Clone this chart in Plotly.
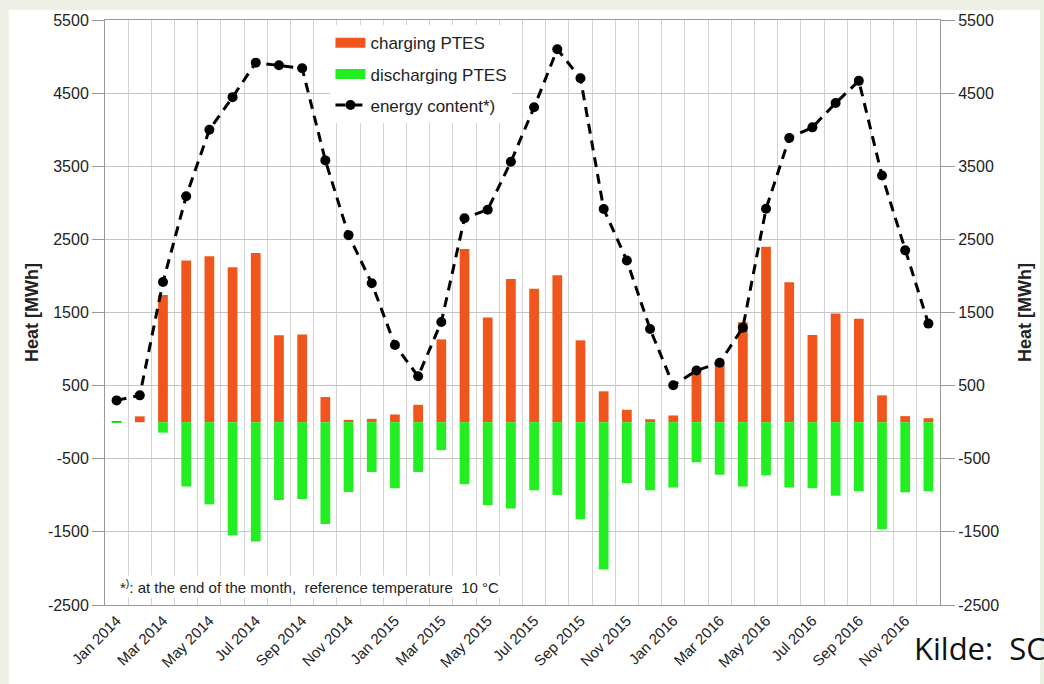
import plotly.graph_objects as go

months = ["Jan 2014", "Feb 2014", "Mar 2014", "Apr 2014", "May 2014", "Jun 2014",
          "Jul 2014", "Aug 2014", "Sep 2014", "Oct 2014", "Nov 2014", "Dec 2014",
          "Jan 2015", "Feb 2015", "Mar 2015", "Apr 2015", "May 2015", "Jun 2015",
          "Jul 2015", "Aug 2015", "Sep 2015", "Oct 2015", "Nov 2015", "Dec 2015",
          "Jan 2016", "Feb 2016", "Mar 2016", "Apr 2016", "May 2016", "Jun 2016",
          "Jul 2016", "Aug 2016", "Sep 2016", "Oct 2016", "Nov 2016", "Dec 2016"]

charging = [10, 80, 1740, 2210, 2270, 2120, 2315, 1190, 1200, 344, 32, 46,
            105, 238, 1132, 2370, 1430, 1958, 1825, 2008, 1119, 422, 170, 41,
            92, 665, 802, 1366, 2400, 1912, 1192, 1486, 1413, 367, 83, 55]

discharging = [-8, 0, -143, -880, -1124, -1548, -1631, -1065, -1051, -1392, -954, -682,
               -903, -682, -382, -848, -1134, -1180, -931, -995, -1327, -2014, -834, -931,
               -894, -548, -719, -880, -728, -894, -903, -1005, -945, -1465, -959, -945]

energy = [298, 367, 1916, 3090, 4000, 4445, 4917, 4882, 4840, 3580, 2558, 1900,
          1055, 628, 1370, 2789, 2906, 3561, 4306, 5100, 4703, 2915, 2210, 1275,
          504, 706, 812, 1293, 2918, 3886, 4032, 4364, 4668, 3373, 2350, 1348]

y_ticks = [-2500, -1500, -500, 500, 1500, 2500, 3500, 4500, 5500]
y_tick_text = [str(v) for v in y_ticks]

ORANGE = "#f0561c"
GREEN = "#22ee22"
FONT = "Arial, Liberation Sans, sans-serif"

idx = list(range(len(months)))
label_idx = idx[::2]
label_txt = months[::2]
boundaries = [i + 0.5 for i in idx[:-1]]

fig = go.Figure()
fig.add_trace(go.Bar(x=idx, y=charging, marker=dict(color=ORANGE, line=dict(width=0)),
                     width=0.42, name="charging PTES", showlegend=False))
fig.add_trace(go.Bar(x=idx, y=discharging, marker=dict(color=GREEN, line=dict(width=0)),
                     width=0.42, name="discharging PTES", showlegend=False))
# legend swatches
fig.add_trace(go.Scatter(x=[None], y=[None], mode="lines", line=dict(color=ORANGE, width=10),
                         name="charging PTES", legendgroup="a"))
fig.add_trace(go.Scatter(x=[None], y=[None], mode="lines", line=dict(color=GREEN, width=10),
                         name="discharging PTES", legendgroup="b"))
fig.add_trace(go.Scatter(x=idx, y=energy, mode="lines+markers", yaxis="y2",
                         line=dict(color="black", width=3, dash="10px,7px"),
                         marker=dict(color="black", size=10),
                         name="energy content*)", legendgroup="c"))

axis_common = dict(range=[-2500, 5500], tickmode="array", tickvals=y_ticks,
                   ticktext=y_tick_text, ticks="outside",
                   tickcolor="#999", tickfont=dict(family=FONT, size=16, color="#222"),
                   zeroline=False, showline=True, linecolor="#999", linewidth=1)

title_font = dict(family=FONT, size=18, color="#222")

fig.update_layout(
    width=1044, height=684,
    margin=dict(l=105, r=89, t=20, b=79),
    paper_bgcolor="#edf0e4",
    plot_bgcolor="white",
    barmode="relative",
    font=dict(family=FONT, color="#222"),
    xaxis=dict(range=[-0.5, 35.5], tickmode="array", tickvals=label_idx, ticktext=label_txt,
               tickangle=-45, tickfont=dict(family=FONT, size=15, color="#222"),
               showgrid=False, zeroline=False, showline=True, linecolor="#999",
               mirror=True, ticks="",
               minor=dict(tickmode="array", tickvals=boundaries, showgrid=True,
                          gridcolor="#d3d3d3", gridwidth=1, ticks="")),
    yaxis=dict(**axis_common, ticklen=12, showgrid=True, gridcolor="#c4c4c4", gridwidth=1,
               mirror=True,
               title=dict(text="<b>Heat [MWh]</b>", font=title_font, standoff=4)),
    yaxis2=dict(**axis_common, ticklen=14, overlaying="y", side="right", showgrid=False,
                title=dict(text="<b>Heat [MWh]</b>", font=title_font, standoff=20)),
    legend=dict(x=0.27, y=0.991, xanchor="left", yanchor="top", bgcolor="white",
                font=dict(family=FONT, size=17, color="#222"), tracegroupgap=6,
                itemwidth=30),
    shapes=[dict(type="rect", xref="paper", yref="paper", x0=-0.1153, x1=1.12,
                 y0=-0.15, y1=1.0171, fillcolor="white", line=dict(width=0), layer="below")],
    annotations=[
        dict(text="*<sup>)</sup>: at the end of the month,  reference temperature  10 °C",
             xref="paper", yref="paper", x=0.0153, y=0.031, xanchor="left", yanchor="middle",
             showarrow=False, bgcolor="white", font=dict(family=FONT, size=15, color="#222")),
        dict(text="Kilde:  SC", xref="paper", yref="paper", x=0.966, y=-0.0735,
             xanchor="left", yanchor="middle", showarrow=False,
             font=dict(family="Open Sans, sans-serif", size=31, color="#111")),
    ],
)

fig.write_html("out.html", config={"displayModeBar": False},
               post_script="document.body.style.margin='0';")
